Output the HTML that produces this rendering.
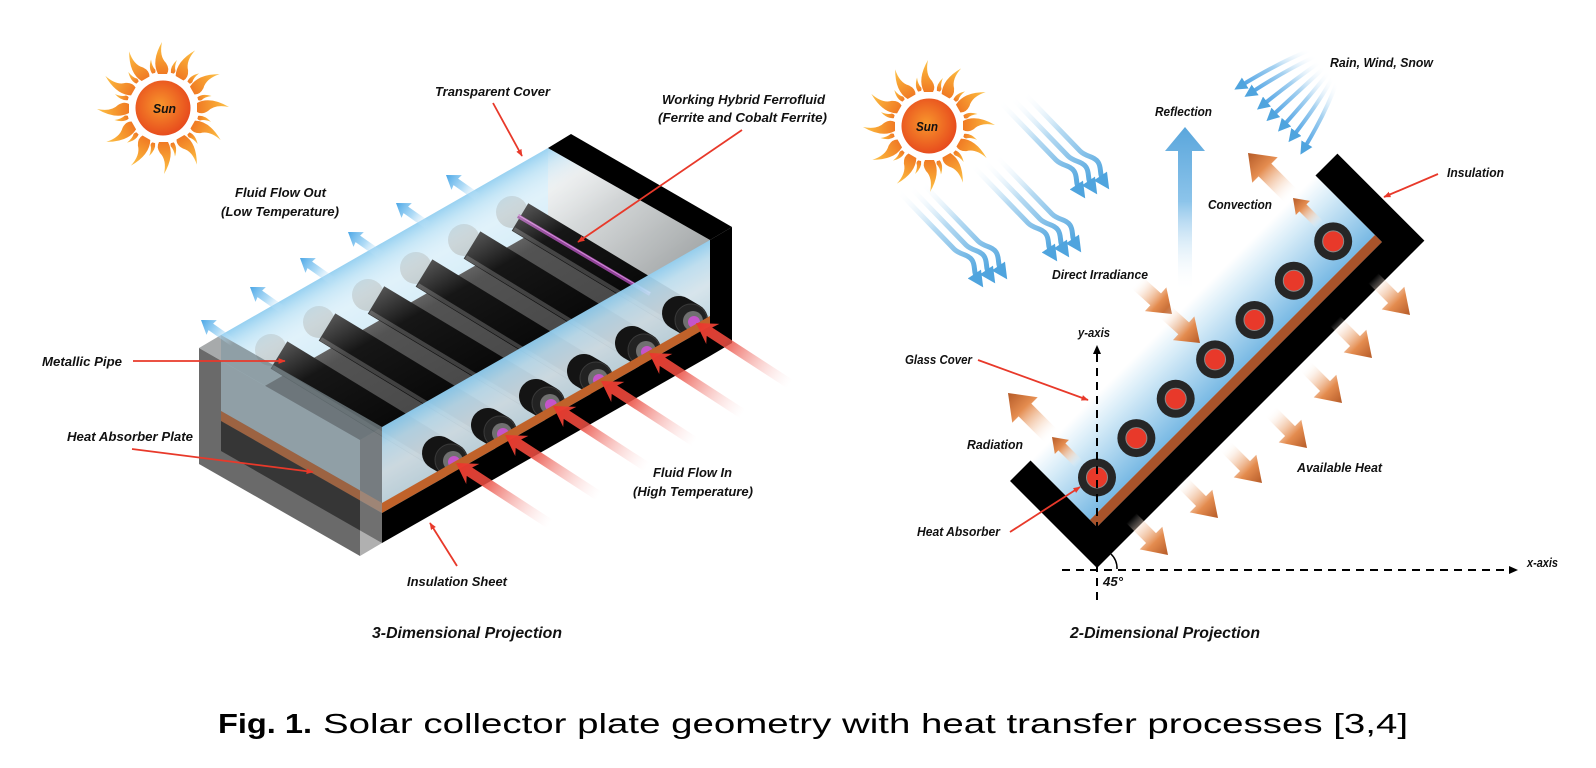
<!DOCTYPE html>
<html><head><meta charset="utf-8">
<style>
html,body{margin:0;padding:0;background:#fff;}
svg{display:block;}
.l{font-family:"Liberation Sans",sans-serif;font-weight:bold;font-style:italic;font-size:13px;fill:#111;}
.t{font-family:"Liberation Sans",sans-serif;font-weight:bold;font-style:italic;font-size:16px;fill:#111;}
.c{font-family:"Liberation Sans",sans-serif;font-size:28px;fill:#000;}
</style></head><body>
<svg width="1596" height="768" viewBox="0 0 1596 768" xmlns="http://www.w3.org/2000/svg">
<defs>
 <radialGradient id="sunb" cx="0.45" cy="0.45" r="0.6">
  <stop offset="0" stop-color="#f8962c"/>
  <stop offset="1" stop-color="#e6461c"/>
 </radialGradient>
 <linearGradient id="fl" x1="0" y1="1" x2="0" y2="0">
  <stop offset="0" stop-color="#f07a24"/>
  <stop offset="0.6" stop-color="#f8a434"/>
  <stop offset="1" stop-color="#fcc34a"/>
 </linearGradient>
 <path id="fb" d="M-5,-34 Q-12,-47 -1,-66 Q-4,-52 3,-45 Q7,-39 4,-34 Z" fill="url(#fl)"/>
 <path id="fs" d="M-1.5,-36 Q-4,-42 1,-50 Q0,-43 2.5,-39 Q2.5,-37 1.5,-36 Z" fill="url(#fl)"/>
 <g id="sun">
  <use href="#fb" transform="rotate(0)"/><use href="#fb" transform="rotate(30)"/><use href="#fb" transform="rotate(60)"/>
  <use href="#fb" transform="rotate(90)"/><use href="#fb" transform="rotate(120)"/><use href="#fb" transform="rotate(150)"/>
  <use href="#fb" transform="rotate(180)"/><use href="#fb" transform="rotate(210)"/><use href="#fb" transform="rotate(240)"/>
  <use href="#fb" transform="rotate(270)"/><use href="#fb" transform="rotate(300)"/><use href="#fb" transform="rotate(330)"/>
  <use href="#fs" transform="rotate(15)"/><use href="#fs" transform="rotate(45)"/><use href="#fs" transform="rotate(75)"/>
  <use href="#fs" transform="rotate(105)"/><use href="#fs" transform="rotate(135)"/><use href="#fs" transform="rotate(165)"/>
  <use href="#fs" transform="rotate(195)"/><use href="#fs" transform="rotate(225)"/><use href="#fs" transform="rotate(255)"/>
  <use href="#fs" transform="rotate(285)"/><use href="#fs" transform="rotate(315)"/><use href="#fs" transform="rotate(345)"/>
  <circle r="27.5" fill="url(#sunb)"/>
 </g>
 <linearGradient id="endg" gradientUnits="userSpaceOnUse" x1="548" y1="148" x2="710" y2="316">
  <stop offset="0" stop-color="#f4f7f8"/><stop offset="1" stop-color="#8f9394"/>
 </linearGradient>
 <linearGradient id="topg" gradientUnits="userSpaceOnUse" x1="384" y1="241" x2="464" y2="380">
  <stop offset="0" stop-color="#8fcdf0" stop-opacity="0.9"/>
  <stop offset="0.1" stop-color="#bfe3f6" stop-opacity="0.6"/>
  <stop offset="0.25" stop-color="#ffffff" stop-opacity="0.3"/>
  <stop offset="0.5" stop-color="#ffffff" stop-opacity="0.05"/>
  <stop offset="1" stop-color="#ffffff" stop-opacity="0"/>
 </linearGradient>
 <linearGradient id="frontg" gradientUnits="userSpaceOnUse" x1="546" y1="333" x2="579" y2="390">
  <stop offset="0" stop-color="#8fcdf0" stop-opacity="0.95"/>
  <stop offset="0.25" stop-color="#c2e4f6" stop-opacity="0.9"/>
  <stop offset="0.6" stop-color="#e2f1f9" stop-opacity="0.85"/>
  <stop offset="1" stop-color="#cfe6f1" stop-opacity="0.85"/>
 </linearGradient>
 <linearGradient id="rg" x1="0" y1="0" x2="1" y2="0">
  <stop offset="0" stop-color="#e8372b"/>
  <stop offset="0.3" stop-color="#ea4a3e" stop-opacity="0.9"/>
  <stop offset="0.6" stop-color="#f07f78" stop-opacity="0.5"/>
  <stop offset="1" stop-color="#fbd0d0" stop-opacity="0"/>
 </linearGradient>
 <linearGradient id="bg" x1="0" y1="0" x2="1" y2="0">
  <stop offset="0" stop-color="#4aa6e6"/>
  <stop offset="0.5" stop-color="#8ccbf2" stop-opacity="0.7"/>
  <stop offset="1" stop-color="#d8eefb" stop-opacity="0"/>
 </linearGradient>
 <linearGradient id="og" x1="0" y1="0" x2="1" y2="0">
  <stop offset="0" stop-color="#ffffff" stop-opacity="0"/>
  <stop offset="0.3" stop-color="#f5cfb4" stop-opacity="0.6"/>
  <stop offset="0.65" stop-color="#e48c4f"/>
  <stop offset="1" stop-color="#b55a27"/>
 </linearGradient>
 <linearGradient id="refg" x1="0" y1="0" x2="0" y2="1">
  <stop offset="0" stop-color="#5aa6dc"/>
  <stop offset="0.45" stop-color="#8cc4ea"/>
  <stop offset="1" stop-color="#ffffff" stop-opacity="0"/>
 </linearGradient>
 <linearGradient id="wg" x1="0" y1="0" x2="1" y2="1">
  <stop offset="0" stop-color="#ffffff" stop-opacity="0"/>
  <stop offset="0.45" stop-color="#a9d4f0" stop-opacity="0.85"/>
  <stop offset="1" stop-color="#4fa4de"/>
 </linearGradient>
 <linearGradient id="rw" x1="1" y1="0" x2="0" y2="1">
  <stop offset="0" stop-color="#ffffff" stop-opacity="0"/>
  <stop offset="0.5" stop-color="#a6d2f1"/>
  <stop offset="1" stop-color="#4fa3e4"/>
 </linearGradient>
 <linearGradient id="glass2" x1="0" y1="0" x2="0" y2="1">
  <stop offset="0" stop-color="#ffffff"/>
  <stop offset="0.3" stop-color="#d7ecf8"/>
  <stop offset="1" stop-color="#78b9e4"/>
 </linearGradient>
 <marker id="bh" viewBox="0 0 10 10" refX="3" refY="5" markerWidth="3.2" markerHeight="3.2" orient="auto"><path d="M0,0 L10,5 L0,10 z" fill="#4fa4de"/></marker>
 <marker id="rh" viewBox="0 0 10 10" refX="9" refY="5" markerWidth="4" markerHeight="4" orient="auto"><path d="M0,1 L10,5 L0,9 z" fill="#e8392a"/></marker>
 <path id="wave" d="M0,0 L56,58 C62,64 70,63 74,69 C78,75 75,81 79,87" fill="none" stroke="url(#wg)" stroke-width="5" marker-end="url(#bh)"/>
</defs>

<!-- ============ 3D ============ -->
<use href="#sun" transform="translate(163,108)"/>
<text class="l" x="153" y="113" font-size="14" textLength="23" lengthAdjust="spacingAndGlyphs">Sun</text>

<!-- back wall glass -->
<polygon points="221,335 548,148 548,224 221,411" fill="#d3ecf8"/>
<!-- right inner end face -->
<polygon points="548,148 710,240 710,316 548,224" fill="url(#endg)"/>
<!-- floor -->
<polygon points="221,411 548,224 710,316 382,503" fill="#4a4a4a"/>
<!-- pipes back caps -->
<g fill="#b5c3c7">
 <circle cx="271" cy="350" r="16"/><circle cx="319" cy="322" r="16"/><circle cx="368" cy="295" r="16"/>
 <circle cx="416" cy="268" r="16"/><circle cx="464" cy="240" r="16"/><circle cx="512" cy="212" r="16"/>
</g>
<!-- pipe bodies -->
<g stroke="#0a0a0a" stroke-width="32">
 <line x1="279" y1="355" x2="451" y2="460"/><line x1="327" y1="327" x2="500" y2="432"/>
 <line x1="376" y1="300" x2="548" y2="403"/><line x1="424" y1="273" x2="596" y2="378"/>
 <line x1="472" y1="245" x2="644" y2="350"/><line x1="520" y1="217" x2="691" y2="320"/>
</g>
<g stroke="#3d3d3d" stroke-width="4">
 <line x1="273" y1="367" x2="445" y2="472"/><line x1="321" y1="339" x2="494" y2="444"/>
 <line x1="370" y1="312" x2="542" y2="415"/><line x1="418" y1="285" x2="590" y2="390"/>
 <line x1="466" y1="257" x2="638" y2="362"/><line x1="514" y1="229" x2="685" y2="332"/>
</g>
<line x1="518" y1="216" x2="650" y2="294" stroke="#8e3f96" stroke-width="4"/>
<line x1="518" y1="215" x2="650" y2="293" stroke="#d48ad8" stroke-width="1"/>
<!-- glass top -->
<polygon points="221,335 548,148 710,240 382,427" fill="url(#topg)"/>
<!-- left slab -->
<polygon points="199,348 360,440 360,556 199,464" fill="#6a6a6a"/>
<polygon points="221,335 382,427 382,503 221,411" fill="#bee1f0" fill-opacity="0.45"/>
<polygon points="221,411 382,503 382,513 221,421" fill="#be5f28" fill-opacity="0.6"/>
<polygon points="221,421 382,513 382,543 221,451" fill="#141414" fill-opacity="0.6"/>
<polygon points="199,348 221,335 382,427 360,440" fill="#5e6466" fill-opacity="0.55"/>
<polygon points="360,440 382,427 382,543 360,556" fill="#707070" fill-opacity="0.55"/>
<!-- front glass face -->
<polygon points="382,427 710,240 710,316 382,503" fill="url(#frontg)"/>
<!-- pipe ends -->
<g>
 <g stroke="#141414" stroke-width="34" stroke-linecap="round">
  <line x1="439" y1="453" x2="451" y2="460"/><line x1="488" y1="425" x2="500" y2="432"/>
  <line x1="536" y1="396" x2="548" y2="403"/><line x1="584" y1="371" x2="596" y2="378"/>
  <line x1="632" y1="343" x2="644" y2="350"/><line x1="679" y1="313" x2="691" y2="320"/>
 </g>
 <g fill="#222" stroke="#3a3a3a" stroke-width="1">
  <circle cx="451" cy="460" r="16"/><circle cx="500" cy="432" r="16"/><circle cx="548" cy="403" r="16"/>
  <circle cx="596" cy="378" r="16"/><circle cx="644" cy="350" r="16"/><circle cx="691" cy="320" r="16"/>
 </g>
 <g fill="#707070">
  <circle cx="453" cy="461" r="10"/><circle cx="502" cy="433" r="10"/><circle cx="550" cy="404" r="10"/>
  <circle cx="598" cy="379" r="10"/><circle cx="646" cy="351" r="10"/><circle cx="693" cy="321" r="10"/>
 </g>
 <g fill="#c555c9">
  <circle cx="454" cy="462" r="6"/><circle cx="503" cy="434" r="6"/><circle cx="551" cy="405" r="6"/>
  <circle cx="599" cy="380" r="6"/><circle cx="647" cy="352" r="6"/><circle cx="694" cy="322" r="6"/>
 </g>
</g>
<!-- orange & black strips -->
<polygon points="382,503 710,316 710,326 382,513" fill="#c0622a"/>
<polygon points="382,513 710,326 710,356 382,543" fill="#000"/>
<!-- right black wall -->
<polygon points="548,148 571,134 732,227 710,240" fill="#000"/>
<polygon points="710,240 732,227 732,343 710,356" fill="#000"/>
<!-- red inflow arrows -->
<g fill="url(#rg)">
 <polygon transform="translate(456,463) rotate(33)" points="0,0 20,-12 16,-5 112,-5 112,5 16,5 20,12"/>
 <polygon transform="translate(505,435) rotate(33)" points="0,0 20,-12 16,-5 112,-5 112,5 16,5 20,12"/>
 <polygon transform="translate(553,406) rotate(33)" points="0,0 20,-12 16,-5 112,-5 112,5 16,5 20,12"/>
 <polygon transform="translate(601,381) rotate(33)" points="0,0 20,-12 16,-5 112,-5 112,5 16,5 20,12"/>
 <polygon transform="translate(649,353) rotate(33)" points="0,0 20,-12 16,-5 112,-5 112,5 16,5 20,12"/>
 <polygon transform="translate(696,323) rotate(33)" points="0,0 20,-12 16,-5 112,-5 112,5 16,5 20,12"/>
</g>
<!-- blue outflow arrows -->
<g fill="url(#bg)">
 <polygon transform="translate(201,320) rotate(35)" points="0,0 13,-9 12,-4 40,-4 40,4 12,4 13,9"/>
 <polygon transform="translate(250,287) rotate(35)" points="0,0 13,-9 12,-4 40,-4 40,4 12,4 13,9"/>
 <polygon transform="translate(300,258) rotate(35)" points="0,0 13,-9 12,-4 40,-4 40,4 12,4 13,9"/>
 <polygon transform="translate(348,232) rotate(35)" points="0,0 13,-9 12,-4 40,-4 40,4 12,4 13,9"/>
 <polygon transform="translate(396,203) rotate(35)" points="0,0 13,-9 12,-4 40,-4 40,4 12,4 13,9"/>
 <polygon transform="translate(446,175) rotate(35)" points="0,0 13,-9 12,-4 40,-4 40,4 12,4 13,9"/>
</g>
<!-- 3D leader lines -->
<g stroke="#e8392a" stroke-width="1.8" fill="none" marker-end="url(#rh)">
 <line x1="493" y1="103" x2="522" y2="156"/>
 <line x1="742" y1="130" x2="578" y2="242"/>
 <line x1="133" y1="361" x2="285" y2="361"/>
 <line x1="132" y1="449" x2="313" y2="472"/>
 <line x1="457" y1="566" x2="430" y2="523"/>
</g>
<!-- 3D labels -->
<text class="l" x="435" y="96" textLength="115" lengthAdjust="spacingAndGlyphs">Transparent Cover</text>
<text class="l" x="662" y="104" textLength="163" lengthAdjust="spacingAndGlyphs">Working Hybrid Ferrofluid</text>
<text class="l" x="658" y="122" textLength="169" lengthAdjust="spacingAndGlyphs">(Ferrite and Cobalt Ferrite)</text>
<text class="l" x="235" y="197" textLength="91" lengthAdjust="spacingAndGlyphs">Fluid Flow Out</text>
<text class="l" x="221" y="216" textLength="118" lengthAdjust="spacingAndGlyphs">(Low Temperature)</text>
<text class="l" x="42" y="366" textLength="80" lengthAdjust="spacingAndGlyphs">Metallic Pipe</text>
<text class="l" x="67" y="441" textLength="126" lengthAdjust="spacingAndGlyphs">Heat Absorber Plate</text>
<text class="l" x="653" y="477" textLength="79" lengthAdjust="spacingAndGlyphs">Fluid Flow In</text>
<text class="l" x="633" y="496" textLength="120" lengthAdjust="spacingAndGlyphs">(High Temperature)</text>
<text class="l" x="407" y="586" textLength="100" lengthAdjust="spacingAndGlyphs">Insulation Sheet</text>
<text class="t" x="372" y="638" textLength="190" lengthAdjust="spacingAndGlyphs">3-Dimensional Projection</text>

<!-- ============ 2D ============ -->
<use href="#sun" transform="translate(929,126)"/>
<text class="l" x="916" y="131" font-size="14" textLength="22" lengthAdjust="spacingAndGlyphs">Sun</text>

<!-- irradiance wavy arrows -->
<use href="#wave" transform="translate(898,191)"/>
<use href="#wave" transform="translate(910,187)"/>
<use href="#wave" transform="translate(922,183)"/>
<use href="#wave" transform="translate(972,165)"/>
<use href="#wave" transform="translate(984,161)"/>
<use href="#wave" transform="translate(996,156)"/>
<use href="#wave" transform="translate(1000,102)"/>
<use href="#wave" transform="translate(1012,98)"/>
<use href="#wave" transform="translate(1024,93)"/>

<!-- rain wind snow arrows -->
<g fill="none" stroke="url(#rw)" stroke-width="4" marker-end="url(#bh)">
 <path d="M1310,50 Q1280,62 1242,85"/>
 <path d="M1316,56 Q1286,70 1252,92"/>
 <path d="M1320,62 Q1294,80 1264,104"/>
 <path d="M1325,67 Q1302,88 1273,115"/>
 <path d="M1329,72 Q1310,96 1284,125"/>
 <path d="M1333,77 Q1318,104 1294,135"/>
 <path d="M1337,82 Q1326,112 1305,147"/>
</g>

<!-- reflection arrow -->
<polygon points="1185,127 1205,151 1192,151 1192,292 1178,292 1178,151 1165,151" fill="url(#refg)"/>

<!-- collector -->
<g transform="translate(1097,568) rotate(-45)">
 <rect x="29" y="-123" width="403" height="84" fill="url(#glass2)"/>
 <rect x="29" y="-39" width="403" height="10" fill="#a9532a"/>
 <path d="M0,0 H463 V-123 H432 V-29 H29 V-123 H0 Z" fill="#000"/>
 <g fill="#262626">
  <circle cx="64" cy="-64" r="19"/><circle cx="119.7" cy="-64" r="19"/><circle cx="175.3" cy="-64" r="19"/>
  <circle cx="231" cy="-64" r="19"/><circle cx="286.7" cy="-64" r="19"/><circle cx="342.3" cy="-64" r="19"/>
  <circle cx="398" cy="-64" r="19"/>
 </g>
 <g fill="#e8392a" stroke="#8a8a8a" stroke-width="1">
  <circle cx="64" cy="-64" r="10.5"/><circle cx="119.7" cy="-64" r="10.5"/><circle cx="175.3" cy="-64" r="10.5"/>
  <circle cx="231" cy="-64" r="10.5"/><circle cx="286.7" cy="-64" r="10.5"/><circle cx="342.3" cy="-64" r="10.5"/>
  <circle cx="398" cy="-64" r="10.5"/>
 </g>
</g>

<!-- orange arrows -->
<g fill="url(#og)">
 <polygon transform="translate(1410,315) rotate(45)" points="0,0 -24,16 -24,7 -52,7 -52,-7 -24,-7 -24,-16"/>
 <polygon transform="translate(1372,358) rotate(45)" points="0,0 -24,16 -24,7 -52,7 -52,-7 -24,-7 -24,-16"/>
 <polygon transform="translate(1342,403) rotate(45)" points="0,0 -24,16 -24,7 -52,7 -52,-7 -24,-7 -24,-16"/>
 <polygon transform="translate(1307,448) rotate(45)" points="0,0 -24,16 -24,7 -52,7 -52,-7 -24,-7 -24,-16"/>
 <polygon transform="translate(1262,483) rotate(45)" points="0,0 -24,16 -24,7 -52,7 -52,-7 -24,-7 -24,-16"/>
 <polygon transform="translate(1218,518) rotate(45)" points="0,0 -24,16 -24,7 -52,7 -52,-7 -24,-7 -24,-16"/>
 <polygon transform="translate(1168,555) rotate(45)" points="0,0 -24,16 -24,7 -52,7 -52,-7 -24,-7 -24,-16"/>
 <polygon transform="translate(1172,314) rotate(42)" points="0,0 -22,16 -22,8 -48,8 -48,-8 -22,-8 -22,-16"/>
 <polygon transform="translate(1200,343) rotate(42)" points="0,0 -22,16 -22,8 -48,8 -48,-8 -22,-8 -22,-16"/>
 <polygon transform="translate(1248,153) rotate(-135)" points="0,0 -24,18 -24,9 -62,9 -62,-9 -24,-9 -24,-18"/>
 <polygon transform="translate(1293,198) rotate(-135)" points="0,0 -14,10 -14,5 -38,5 -38,-5 -14,-5 -14,-10"/>
 <polygon transform="translate(1008,393) rotate(-135)" points="0,0 -24,18 -24,9 -62,9 -62,-9 -24,-9 -24,-18"/>
 <polygon transform="translate(1052,437) rotate(-135)" points="0,0 -14,10 -14,5 -38,5 -38,-5 -14,-5 -14,-10"/>
</g>

<!-- axes -->
<line x1="1097" y1="354" x2="1097" y2="600" stroke="#000" stroke-width="2" stroke-dasharray="8,6"/>
<polygon points="1097,345 1093,354 1101,354" fill="#000"/>
<line x1="1062" y1="570" x2="1509" y2="570" stroke="#000" stroke-width="2" stroke-dasharray="8,6"/>
<polygon points="1518,570 1509,566 1509,574" fill="#000"/>
<path d="M1117,569 A20,20 0 0 0 1111,554" fill="none" stroke="#000" stroke-width="1.5"/>

<!-- 2D leader lines -->
<g stroke="#e8392a" stroke-width="1.8" fill="none" marker-end="url(#rh)">
 <line x1="978" y1="360" x2="1088" y2="400"/>
 <line x1="1010" y1="532" x2="1080" y2="487"/>
 <line x1="1438" y1="174" x2="1384" y2="197"/>
</g>

<!-- 2D labels -->
<text class="l" x="1155" y="116" textLength="57" lengthAdjust="spacingAndGlyphs">Reflection</text>
<text class="l" x="1330" y="67" textLength="103" lengthAdjust="spacingAndGlyphs">Rain, Wind, Snow</text>
<text class="l" x="1208" y="209" textLength="64" lengthAdjust="spacingAndGlyphs">Convection</text>
<text class="l" x="1447" y="177" textLength="57" lengthAdjust="spacingAndGlyphs">Insulation</text>
<text class="l" x="1052" y="279" textLength="96" lengthAdjust="spacingAndGlyphs">Direct Irradiance</text>
<text class="l" x="1078" y="337" textLength="32" lengthAdjust="spacingAndGlyphs">y-axis</text>
<text class="l" x="905" y="364" textLength="67" lengthAdjust="spacingAndGlyphs">Glass Cover</text>
<text class="l" x="967" y="449" textLength="56" lengthAdjust="spacingAndGlyphs">Radiation</text>
<text class="l" x="1297" y="472" textLength="85" lengthAdjust="spacingAndGlyphs">Available Heat</text>
<text class="l" x="917" y="536" textLength="83" lengthAdjust="spacingAndGlyphs">Heat Absorber</text>
<text class="l" x="1103" y="586" textLength="20" lengthAdjust="spacingAndGlyphs">45°</text>
<text class="l" x="1527" y="567" textLength="31" lengthAdjust="spacingAndGlyphs">x-axis</text>
<text class="t" x="1070" y="638" textLength="190" lengthAdjust="spacingAndGlyphs">2-Dimensional Projection</text>

<!-- caption -->
<text class="c" x="218" y="733" font-weight="bold" textLength="94" lengthAdjust="spacingAndGlyphs">Fig. 1.</text>
<text class="c" x="323" y="733" textLength="1085" lengthAdjust="spacingAndGlyphs">Solar collector plate geometry with heat transfer processes [3,4]</text>
</svg>
</body></html>
